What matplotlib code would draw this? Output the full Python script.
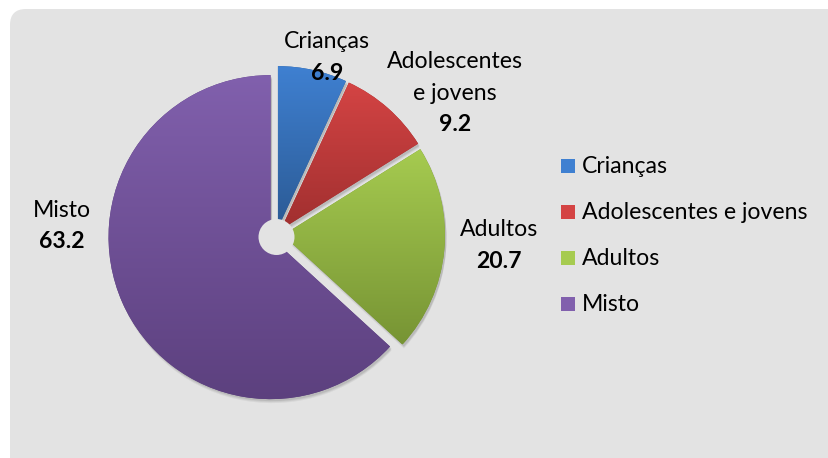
import numpy as np
import matplotlib
matplotlib.use('Agg')
import matplotlib.pyplot as plt
from matplotlib.patches import FancyBboxPatch, Circle, Rectangle, Wedge
from matplotlib.colors import LinearSegmentedColormap

categories = ['Crianças', 'Adolescentes e jovens', 'Adultos', 'Misto']
values = [6.9, 9.2, 20.7, 63.2]
label_lines = [['Crianças'], ['Adolescentes', 'e jovens'], ['Adultos'], ['Misto']]
top_colors = ['#3f80d1', '#d44444', '#a6cb50', '#8160ad']
bottom_colors = ['#2b5a94', '#a02f2f', '#779434', '#5c407e']

W, H = 829, 458
plt.rcParams['font.family'] = ['Lato', 'DejaVu Sans']
FS = 16.6

fig = plt.figure(figsize=(W / 100, H / 100), dpi=100)
ax = fig.add_axes([0, 0, 1, 1])


def py(y):
    # pixel row (from top) -> data y
    return H - y


# grey rounded panel
ax.add_patch(FancyBboxPatch((10, -40), W + 40, py(9) + 40,
                            boxstyle='round,pad=0,rounding_size=16',
                            fc='#e3e3e3', ec='none', zorder=0))

cx, cy, R = 276.5, py(234.5), 162
# explode is in data units here (pixels)
wedges, _ = ax.pie(values, startangle=90, counterclock=False,
                   explode=[6.5] * len(values), radius=R, center=(cx, cy),
                   frame=True, wedgeprops=dict(linewidth=0))

for i, w in enumerate(wedges):
    w.set_facecolor(bottom_colors[i])
    w.set_zorder(3)
    # soft shadow
    for k, a in [(4, 0.05), (3, 0.06), (2, 0.08)]:
        sh = Wedge((w.center[0] + 1.5, w.center[1] - k), w.r, w.theta1, w.theta2,
                   fc='black', alpha=a, lw=0, zorder=2)
        ax.add_patch(sh)
    v = w.get_path().vertices
    x0, x1 = v[:, 0].min(), v[:, 0].max()
    y0, y1 = v[:, 1].min(), v[:, 1].max()
    cmap = LinearSegmentedColormap.from_list('g%d' % i, [bottom_colors[i], top_colors[i]])
    grad = np.linspace(1, 0, 256).reshape(-1, 1)
    im = ax.imshow(grad, cmap=cmap, extent=(x0, x1, y0, y1), aspect='auto',
                   zorder=4, origin='upper', vmin=0, vmax=1)
    im.set_clip_path(w)

ax.add_patch(Circle((cx, py(237)), 18, fc='#e3e3e3', ec='none', zorder=5))

# data labels
label_x = [327, 455, 499, 62]
label_base = [48, 68, 236, 217]
step = 31.5
for i in range(len(values)):
    y = label_base[i]
    for line in label_lines[i]:
        ax.text(label_x[i], py(y), line, ha='center', va='baseline',
                fontsize=FS, color='black', zorder=6)
        y += step
    ax.text(label_x[i], py(y), '%.1f' % values[i], ha='center', va='baseline',
            fontsize=FS, fontweight='bold', color='black', zorder=6)

# legend
leg_x, leg_top, leg_step = 561, 173, 46
for i, c in enumerate(categories):
    base = leg_top + i * leg_step
    ax.add_patch(Rectangle((leg_x, py(base)), 14, 14, fc=top_colors[i], ec='none', zorder=6))
    ax.text(leg_x + 21, py(base), c, ha='left', va='baseline', fontsize=FS,
            color='black', zorder=6)

ax.set_xlim(0, W)
ax.set_ylim(0, H)
ax.set_aspect('auto')
ax.axis('off')
fig.savefig('out.png', dpi=100, facecolor='white')
